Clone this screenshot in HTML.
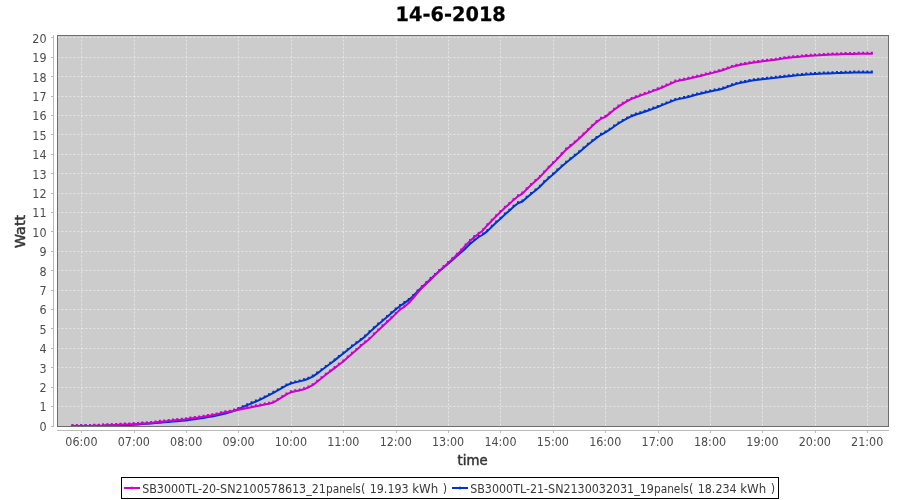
<!DOCTYPE html>
<html lang="en"><head><meta charset="utf-8"><title>14-6-2018</title>
<style>html,body{margin:0;padding:0;background:#fff}body{width:900px;height:500px;overflow:hidden}svg{display:block}text{font-family:"DejaVu Sans Condensed","DejaVu Sans","Liberation Sans",sans-serif;font-stretch:condensed;fill:#4c4c4c}.lb{fill:#333;stroke:#333;stroke-width:0.45px}.ti{fill:#000}.lg{fill:#3a3a3a}.tk{font-size:12.4px}</style></head><body>
<svg width="900" height="500" viewBox="0 0 900 500">
<rect width="900" height="500" fill="#fff"/>
<rect x="57" y="35" width="832" height="392" fill="#cccccc"/>
<path d="M81.5 35.5V426M134.5 35.5V426M186.5 35.5V426M238.5 35.5V426M291.5 35.5V426M343.5 35.5V426M396.5 35.5V426M448.5 35.5V426M500.5 35.5V426M553.5 35.5V426M605.5 35.5V426M658.5 35.5V426M710.5 35.5V426M762.5 35.5V426M815.5 35.5V426M867.5 35.5V426" stroke="rgba(255,255,255,0.5)" stroke-width="1" stroke-dasharray="2 2" fill="none"/>
<path d="M57.4 406.5H888M57.4 387.5H888M57.4 367.5H888M57.4 348.5H888M57.4 328.5H888M57.4 309.5H888M57.4 290.5H888M57.4 270.5H888M57.4 251.5H888M57.4 231.5H888M57.4 212.5H888M57.4 193.5H888M57.4 173.5H888M57.4 154.5H888M57.4 134.5H888M57.4 115.5H888M57.4 96.5H888M57.4 76.5H888M57.4 57.5H888M57.4 37.5H888" stroke="rgba(255,255,255,0.5)" stroke-width="1" stroke-dasharray="2 2" fill="none"/>
<defs><clipPath id="pc"><rect x="57" y="35" width="832" height="392"/></clipPath></defs><g clip-path="url(#pc)">
<polyline points="72.5,426.3 76.9,426.2 81.2,426.2 85.6,426.1 90.0,426.0 94.3,426.0 98.7,425.9 103.1,425.8 107.4,425.6 111.8,425.5 116.2,425.3 120.5,425.2 124.9,425.0 129.3,424.9 133.6,424.7 138.0,424.4 142.4,424.1 146.8,423.8 151.1,423.4 155.5,423.1 159.9,422.7 164.2,422.3 168.6,421.9 173.0,421.6 177.3,421.2 181.7,420.8 186.1,420.4 190.4,419.8 194.8,419.2 199.2,418.6 203.5,417.9 207.9,417.1 212.3,416.4 216.6,415.5 221.0,414.6 225.4,413.6 229.7,412.4 234.1,410.8 238.5,409.1 242.8,407.2 247.2,405.2 251.6,403.3 255.9,401.5 260.3,399.6 264.7,397.4 269.0,395.2 273.4,392.8 277.8,390.4 282.2,387.9 286.5,385.4 290.9,383.5 295.3,382.4 299.6,381.4 304.0,380.3 308.4,378.7 312.7,376.6 317.1,373.6 321.5,370.2 325.8,367.0 330.2,363.8 334.6,360.4 338.9,356.9 343.3,353.5 347.7,349.9 352.0,346.5 356.4,343.2 360.8,339.9 365.1,336.6 369.5,332.2 373.9,328.3 378.2,324.5 382.6,320.8 387.0,317.1 391.3,313.3 395.7,309.5 400.1,305.9 404.4,303.1 408.8,299.9 413.2,295.9 417.6,291.5 421.9,287.2 426.3,283.2 430.7,279.1 435.0,275.1 439.4,271.1 443.8,267.4 448.1,263.8 452.5,259.9 456.9,256.1 461.2,252.3 465.6,248.4 470.0,244.0 474.3,240.5 478.7,237.0 483.1,234.5 487.4,231.1 491.8,226.7 496.2,222.5 500.5,218.7 504.9,214.6 509.3,210.7 513.6,206.7 518.0,203.3 522.4,201.5 526.7,197.7 531.1,194.0 535.5,190.4 539.9,186.8 544.2,182.3 548.6,178.3 553.0,174.5 557.3,170.5 561.7,166.5 566.1,162.7 570.4,159.2 574.8,155.7 579.2,152.2 583.5,148.5 587.9,144.8 592.3,141.3 596.6,137.9 601.0,134.8 605.4,132.4 609.7,129.7 614.1,126.5 618.5,123.5 622.8,120.9 627.2,118.4 631.6,116.2 635.9,114.5 640.3,113.2 644.7,111.8 649.0,110.3 653.4,108.6 657.8,107.0 662.1,105.2 666.5,103.4 670.9,101.6 675.3,99.9 679.6,98.9 684.0,97.9 688.4,97.1 692.7,95.8 697.1,94.5 701.5,93.5 705.8,92.5 710.2,91.6 714.6,90.6 718.9,89.7 723.3,88.5 727.7,86.9 732.0,85.3 736.4,83.9 740.8,82.8 745.1,82.0 749.5,81.1 753.9,80.2 758.2,79.7 762.6,79.2 767.0,78.7 771.3,78.3 775.7,77.8 780.1,77.2 784.4,76.7 788.8,76.2 793.2,75.8 797.5,75.3 801.9,75.0 806.3,74.6 810.7,74.3 815.0,73.9 819.4,73.7 823.8,73.6 828.1,73.4 832.5,73.2 836.9,73.1 841.2,72.9 845.6,72.8 850.0,72.7 854.3,72.6 858.7,72.5 863.1,72.5 867.4,72.5 871.8,72.5" fill="none" stroke="#0033cc" stroke-width="2" stroke-linejoin="round" stroke-linecap="square"/>
<path d="M71.5 424.3h2v2h-2zM75.9 424.2h2v2h-2zM80.2 424.2h2v2h-2zM84.6 424.1h2v2h-2zM89.0 424.0h2v2h-2zM93.3 424.0h2v2h-2zM97.7 423.9h2v2h-2zM102.1 423.8h2v2h-2zM106.4 423.6h2v2h-2zM110.8 423.5h2v2h-2zM115.2 423.3h2v2h-2zM119.5 423.2h2v2h-2zM123.9 423.0h2v2h-2zM128.3 422.9h2v2h-2zM132.6 422.7h2v2h-2zM137.0 422.4h2v2h-2zM141.4 422.1h2v2h-2zM145.8 421.8h2v2h-2zM150.1 421.4h2v2h-2zM154.5 421.1h2v2h-2zM158.9 420.7h2v2h-2zM163.2 420.3h2v2h-2zM167.6 419.9h2v2h-2zM172.0 419.6h2v2h-2zM176.3 419.2h2v2h-2zM180.7 418.8h2v2h-2zM185.1 418.4h2v2h-2zM189.4 417.8h2v2h-2zM193.8 417.2h2v2h-2zM198.2 416.6h2v2h-2zM202.5 415.9h2v2h-2zM206.9 415.1h2v2h-2zM211.3 414.4h2v2h-2zM215.6 413.5h2v2h-2zM220.0 412.6h2v2h-2zM224.4 411.6h2v2h-2zM228.7 410.4h2v2h-2zM233.1 408.8h2v2h-2zM237.5 407.1h2v2h-2zM241.8 405.2h2v2h-2zM246.2 403.2h2v2h-2zM250.6 401.3h2v2h-2zM254.9 399.5h2v2h-2zM259.3 397.6h2v2h-2zM263.7 395.4h2v2h-2zM268.0 393.2h2v2h-2zM272.4 390.8h2v2h-2zM276.8 388.4h2v2h-2zM281.2 385.9h2v2h-2zM285.5 383.4h2v2h-2zM289.9 381.5h2v2h-2zM294.3 380.4h2v2h-2zM298.6 379.4h2v2h-2zM303.0 378.3h2v2h-2zM307.4 376.7h2v2h-2zM311.7 374.6h2v2h-2zM316.1 371.6h2v2h-2zM320.5 368.2h2v2h-2zM324.8 365.0h2v2h-2zM329.2 361.8h2v2h-2zM333.6 358.4h2v2h-2zM337.9 354.9h2v2h-2zM342.3 351.5h2v2h-2zM346.7 347.9h2v2h-2zM351.0 344.5h2v2h-2zM355.4 341.2h2v2h-2zM359.8 337.9h2v2h-2zM364.1 334.6h2v2h-2zM368.5 330.2h2v2h-2zM372.9 326.3h2v2h-2zM377.2 322.5h2v2h-2zM381.6 318.8h2v2h-2zM386.0 315.1h2v2h-2zM390.3 311.3h2v2h-2zM394.7 307.5h2v2h-2zM399.1 303.9h2v2h-2zM403.4 301.1h2v2h-2zM407.8 297.9h2v2h-2zM412.2 293.9h2v2h-2zM416.6 289.5h2v2h-2zM420.9 285.2h2v2h-2zM425.3 281.2h2v2h-2zM429.7 277.1h2v2h-2zM434.0 273.1h2v2h-2zM438.4 269.1h2v2h-2zM442.8 265.4h2v2h-2zM447.1 261.8h2v2h-2zM451.5 257.9h2v2h-2zM455.9 254.1h2v2h-2zM460.2 250.3h2v2h-2zM464.6 246.4h2v2h-2zM469.0 242.0h2v2h-2zM473.3 238.5h2v2h-2zM477.7 235.0h2v2h-2zM482.1 232.5h2v2h-2zM486.4 229.1h2v2h-2zM490.8 224.7h2v2h-2zM495.2 220.5h2v2h-2zM499.5 216.7h2v2h-2zM503.9 212.6h2v2h-2zM508.3 208.7h2v2h-2zM512.6 204.7h2v2h-2zM517.0 201.3h2v2h-2zM521.4 199.5h2v2h-2zM525.7 195.7h2v2h-2zM530.1 192.0h2v2h-2zM534.5 188.4h2v2h-2zM538.9 184.8h2v2h-2zM543.2 180.3h2v2h-2zM547.6 176.3h2v2h-2zM552.0 172.5h2v2h-2zM556.3 168.5h2v2h-2zM560.7 164.5h2v2h-2zM565.1 160.7h2v2h-2zM569.4 157.2h2v2h-2zM573.8 153.7h2v2h-2zM578.2 150.2h2v2h-2zM582.5 146.5h2v2h-2zM586.9 142.8h2v2h-2zM591.3 139.3h2v2h-2zM595.6 135.9h2v2h-2zM600.0 132.8h2v2h-2zM604.4 130.4h2v2h-2zM608.7 127.7h2v2h-2zM613.1 124.5h2v2h-2zM617.5 121.5h2v2h-2zM621.8 118.9h2v2h-2zM626.2 116.4h2v2h-2zM630.6 114.2h2v2h-2zM634.9 112.5h2v2h-2zM639.3 111.2h2v2h-2zM643.7 109.8h2v2h-2zM648.0 108.3h2v2h-2zM652.4 106.6h2v2h-2zM656.8 105.0h2v2h-2zM661.1 103.2h2v2h-2zM665.5 101.4h2v2h-2zM669.9 99.6h2v2h-2zM674.3 97.9h2v2h-2zM678.6 96.9h2v2h-2zM683.0 95.9h2v2h-2zM687.4 95.1h2v2h-2zM691.7 93.8h2v2h-2zM696.1 92.5h2v2h-2zM700.5 91.5h2v2h-2zM704.8 90.5h2v2h-2zM709.2 89.6h2v2h-2zM713.6 88.6h2v2h-2zM717.9 87.7h2v2h-2zM722.3 86.5h2v2h-2zM726.7 84.9h2v2h-2zM731.0 83.3h2v2h-2zM735.4 81.9h2v2h-2zM739.8 80.8h2v2h-2zM744.1 80.0h2v2h-2zM748.5 79.1h2v2h-2zM752.9 78.2h2v2h-2zM757.2 77.7h2v2h-2zM761.6 77.2h2v2h-2zM766.0 76.7h2v2h-2zM770.3 76.3h2v2h-2zM774.7 75.8h2v2h-2zM779.1 75.2h2v2h-2zM783.4 74.7h2v2h-2zM787.8 74.2h2v2h-2zM792.2 73.8h2v2h-2zM796.5 73.3h2v2h-2zM800.9 73.0h2v2h-2zM805.3 72.6h2v2h-2zM809.7 72.3h2v2h-2zM814.0 71.9h2v2h-2zM818.4 71.7h2v2h-2zM822.8 71.6h2v2h-2zM827.1 71.4h2v2h-2zM831.5 71.2h2v2h-2zM835.9 71.1h2v2h-2zM840.2 70.9h2v2h-2zM844.6 70.8h2v2h-2zM849.0 70.7h2v2h-2zM853.3 70.6h2v2h-2zM857.7 70.5h2v2h-2zM862.1 70.5h2v2h-2zM866.4 70.5h2v2h-2zM870.8 70.5h2v2h-2z" fill="#0033cc"/>
<polyline points="72.5,426.2 76.9,426.1 81.2,426.0 85.6,426.0 90.0,425.9 94.3,425.8 98.7,425.7 103.1,425.6 107.4,425.4 111.8,425.2 116.2,425.0 120.5,424.8 124.9,424.6 129.3,424.4 133.6,424.2 138.0,423.9 142.4,423.6 146.8,423.4 151.1,423.1 155.5,422.5 159.9,421.8 164.2,421.4 168.6,421.0 173.0,420.5 177.3,420.1 181.7,419.7 186.1,419.2 190.4,418.6 194.8,418.0 199.2,417.4 203.5,416.7 207.9,416.0 212.3,415.3 216.6,414.4 221.0,413.3 225.4,412.3 229.7,411.7 234.1,410.8 238.5,409.8 242.8,408.9 247.2,408.0 251.6,407.2 255.9,406.3 260.3,405.4 264.7,404.6 269.0,403.7 273.4,402.5 277.8,399.9 282.2,397.2 286.5,394.4 290.9,392.3 295.3,391.2 299.6,390.4 304.0,389.3 308.4,387.4 312.7,385.2 317.1,381.7 321.5,378.2 325.8,374.8 330.2,371.4 334.6,368.1 338.9,364.8 343.3,361.5 347.7,357.6 352.0,353.7 356.4,349.9 360.8,346.1 365.1,342.5 369.5,338.9 373.9,334.6 378.2,330.4 382.6,326.3 387.0,322.2 391.3,318.2 395.7,313.9 400.1,309.5 404.4,306.8 408.8,303.1 413.2,298.2 417.6,292.9 421.9,288.1 426.3,283.9 430.7,279.7 435.0,275.4 439.4,271.1 443.8,267.1 448.1,263.0 452.5,258.9 456.9,254.8 461.2,250.5 465.6,245.4 470.0,241.0 474.3,237.1 478.7,233.7 483.1,230.2 487.4,225.2 491.8,220.7 496.2,216.3 500.5,212.0 504.9,207.8 509.3,204.1 513.6,199.9 518.0,196.3 522.4,193.6 526.7,189.3 531.1,184.9 535.5,181.0 539.9,177.1 544.2,172.4 548.6,167.8 553.0,163.3 557.3,159.1 561.7,154.3 566.1,149.6 570.4,146.1 574.8,142.5 579.2,138.4 583.5,134.4 587.9,130.2 592.3,126.1 596.6,122.1 601.0,118.7 605.4,116.9 609.7,113.4 614.1,109.8 618.5,106.6 622.8,103.8 627.2,101.2 631.6,98.9 635.9,97.2 640.3,95.6 644.7,94.1 649.0,92.6 653.4,90.9 657.8,89.3 662.1,87.5 666.5,85.6 670.9,83.6 675.3,81.6 679.6,80.6 684.0,79.7 688.4,78.7 692.7,77.8 697.1,76.8 701.5,75.7 705.8,74.6 710.2,73.6 714.6,72.4 718.9,71.3 723.3,70.0 727.7,68.4 732.0,66.9 736.4,65.7 740.8,64.7 745.1,64.0 749.5,63.3 753.9,62.5 758.2,61.9 762.6,61.3 767.0,60.8 771.3,60.2 775.7,59.7 780.1,59.0 784.4,58.3 788.8,57.8 793.2,57.3 797.5,56.9 801.9,56.5 806.3,56.1 810.7,55.8 815.0,55.4 819.4,55.2 823.8,54.9 828.1,54.7 832.5,54.5 836.9,54.4 841.2,54.2 845.6,54.1 850.0,54.0 854.3,53.9 858.7,53.8 863.1,53.8 867.4,53.8 871.8,53.8" fill="none" stroke="#cc00cc" stroke-width="2" stroke-linejoin="round" stroke-linecap="square"/>
<path d="M71.5 424.2h2v2h-2zM75.9 424.1h2v2h-2zM80.2 424.0h2v2h-2zM84.6 424.0h2v2h-2zM89.0 423.9h2v2h-2zM93.3 423.8h2v2h-2zM97.7 423.7h2v2h-2zM102.1 423.6h2v2h-2zM106.4 423.4h2v2h-2zM110.8 423.2h2v2h-2zM115.2 423.0h2v2h-2zM119.5 422.8h2v2h-2zM123.9 422.6h2v2h-2zM128.3 422.4h2v2h-2zM132.6 422.2h2v2h-2zM137.0 421.9h2v2h-2zM141.4 421.6h2v2h-2zM145.8 421.4h2v2h-2zM150.1 421.1h2v2h-2zM154.5 420.5h2v2h-2zM158.9 419.8h2v2h-2zM163.2 419.4h2v2h-2zM167.6 419.0h2v2h-2zM172.0 418.5h2v2h-2zM176.3 418.1h2v2h-2zM180.7 417.7h2v2h-2zM185.1 417.2h2v2h-2zM189.4 416.6h2v2h-2zM193.8 416.0h2v2h-2zM198.2 415.4h2v2h-2zM202.5 414.7h2v2h-2zM206.9 414.0h2v2h-2zM211.3 413.3h2v2h-2zM215.6 412.4h2v2h-2zM220.0 411.3h2v2h-2zM224.4 410.3h2v2h-2zM228.7 409.7h2v2h-2zM233.1 408.8h2v2h-2zM237.5 407.8h2v2h-2zM241.8 406.9h2v2h-2zM246.2 406.0h2v2h-2zM250.6 405.2h2v2h-2zM254.9 404.3h2v2h-2zM259.3 403.4h2v2h-2zM263.7 402.6h2v2h-2zM268.0 401.7h2v2h-2zM272.4 400.5h2v2h-2zM276.8 397.9h2v2h-2zM281.2 395.2h2v2h-2zM285.5 392.4h2v2h-2zM289.9 390.3h2v2h-2zM294.3 389.2h2v2h-2zM298.6 388.4h2v2h-2zM303.0 387.3h2v2h-2zM307.4 385.4h2v2h-2zM311.7 383.2h2v2h-2zM316.1 379.7h2v2h-2zM320.5 376.2h2v2h-2zM324.8 372.8h2v2h-2zM329.2 369.4h2v2h-2zM333.6 366.1h2v2h-2zM337.9 362.8h2v2h-2zM342.3 359.5h2v2h-2zM346.7 355.6h2v2h-2zM351.0 351.7h2v2h-2zM355.4 347.9h2v2h-2zM359.8 344.1h2v2h-2zM364.1 340.5h2v2h-2zM368.5 336.9h2v2h-2zM372.9 332.6h2v2h-2zM377.2 328.4h2v2h-2zM381.6 324.3h2v2h-2zM386.0 320.2h2v2h-2zM390.3 316.2h2v2h-2zM394.7 311.9h2v2h-2zM399.1 307.5h2v2h-2zM403.4 304.8h2v2h-2zM407.8 301.1h2v2h-2zM412.2 296.2h2v2h-2zM416.6 290.9h2v2h-2zM420.9 286.1h2v2h-2zM425.3 281.9h2v2h-2zM429.7 277.7h2v2h-2zM434.0 273.4h2v2h-2zM438.4 269.1h2v2h-2zM442.8 265.1h2v2h-2zM447.1 261.0h2v2h-2zM451.5 256.9h2v2h-2zM455.9 252.8h2v2h-2zM460.2 248.5h2v2h-2zM464.6 243.4h2v2h-2zM469.0 239.0h2v2h-2zM473.3 235.1h2v2h-2zM477.7 231.7h2v2h-2zM482.1 228.2h2v2h-2zM486.4 223.2h2v2h-2zM490.8 218.7h2v2h-2zM495.2 214.3h2v2h-2zM499.5 210.0h2v2h-2zM503.9 205.8h2v2h-2zM508.3 202.1h2v2h-2zM512.6 197.9h2v2h-2zM517.0 194.3h2v2h-2zM521.4 191.6h2v2h-2zM525.7 187.3h2v2h-2zM530.1 182.9h2v2h-2zM534.5 179.0h2v2h-2zM538.9 175.1h2v2h-2zM543.2 170.4h2v2h-2zM547.6 165.8h2v2h-2zM552.0 161.3h2v2h-2zM556.3 157.1h2v2h-2zM560.7 152.3h2v2h-2zM565.1 147.6h2v2h-2zM569.4 144.1h2v2h-2zM573.8 140.5h2v2h-2zM578.2 136.4h2v2h-2zM582.5 132.4h2v2h-2zM586.9 128.2h2v2h-2zM591.3 124.1h2v2h-2zM595.6 120.1h2v2h-2zM600.0 116.7h2v2h-2zM604.4 114.9h2v2h-2zM608.7 111.4h2v2h-2zM613.1 107.8h2v2h-2zM617.5 104.6h2v2h-2zM621.8 101.8h2v2h-2zM626.2 99.2h2v2h-2zM630.6 96.9h2v2h-2zM634.9 95.2h2v2h-2zM639.3 93.6h2v2h-2zM643.7 92.1h2v2h-2zM648.0 90.6h2v2h-2zM652.4 88.9h2v2h-2zM656.8 87.3h2v2h-2zM661.1 85.5h2v2h-2zM665.5 83.6h2v2h-2zM669.9 81.6h2v2h-2zM674.3 79.6h2v2h-2zM678.6 78.6h2v2h-2zM683.0 77.7h2v2h-2zM687.4 76.7h2v2h-2zM691.7 75.8h2v2h-2zM696.1 74.8h2v2h-2zM700.5 73.7h2v2h-2zM704.8 72.6h2v2h-2zM709.2 71.6h2v2h-2zM713.6 70.4h2v2h-2zM717.9 69.3h2v2h-2zM722.3 68.0h2v2h-2zM726.7 66.4h2v2h-2zM731.0 64.9h2v2h-2zM735.4 63.7h2v2h-2zM739.8 62.7h2v2h-2zM744.1 62.0h2v2h-2zM748.5 61.3h2v2h-2zM752.9 60.5h2v2h-2zM757.2 59.9h2v2h-2zM761.6 59.3h2v2h-2zM766.0 58.8h2v2h-2zM770.3 58.2h2v2h-2zM774.7 57.7h2v2h-2zM779.1 57.0h2v2h-2zM783.4 56.3h2v2h-2zM787.8 55.8h2v2h-2zM792.2 55.3h2v2h-2zM796.5 54.9h2v2h-2zM800.9 54.5h2v2h-2zM805.3 54.1h2v2h-2zM809.7 53.8h2v2h-2zM814.0 53.4h2v2h-2zM818.4 53.2h2v2h-2zM822.8 52.9h2v2h-2zM827.1 52.7h2v2h-2zM831.5 52.5h2v2h-2zM835.9 52.4h2v2h-2zM840.2 52.2h2v2h-2zM844.6 52.1h2v2h-2zM849.0 52.0h2v2h-2zM853.3 51.9h2v2h-2zM857.7 51.8h2v2h-2zM862.1 51.8h2v2h-2zM866.4 51.8h2v2h-2zM870.8 51.8h2v2h-2z" fill="#cc00cc"/>
</g>
<rect x="57.5" y="35.5" width="831" height="391" fill="none" stroke="#6e6e6e" stroke-width="1" shape-rendering="crispEdges"/>
<path d="M53.5 35V427M57 430.5H889M51 406.5H54M51 387.5H54M51 367.5H54M51 348.5H54M51 328.5H54M51 309.5H54M51 290.5H54M51 270.5H54M51 251.5H54M51 231.5H54M51 212.5H54M51 193.5H54M51 173.5H54M51 154.5H54M51 134.5H54M51 115.5H54M51 96.5H54M51 76.5H54M51 57.5H54M51 37.5H54M51 426.5H54M81.5 430V433M134.5 430V433M186.5 430V433M238.5 430V433M291.5 430V433M343.5 430V433M396.5 430V433M448.5 430V433M500.5 430V433M553.5 430V433M605.5 430V433M658.5 430V433M710.5 430V433M762.5 430V433M815.5 430V433M867.5 430V433" stroke="#bbbbbb" stroke-width="1" fill="none" shape-rendering="crispEdges"/>
<text class="tk" x="46.5" y="431" text-anchor="end" textLength="7.10" lengthAdjust="spacingAndGlyphs">0</text>
<text class="tk" x="46.5" y="411" text-anchor="end" textLength="7.10" lengthAdjust="spacingAndGlyphs">1</text>
<text class="tk" x="46.5" y="392" text-anchor="end" textLength="7.10" lengthAdjust="spacingAndGlyphs">2</text>
<text class="tk" x="46.5" y="373" text-anchor="end" textLength="7.10" lengthAdjust="spacingAndGlyphs">3</text>
<text class="tk" x="46.5" y="353" text-anchor="end" textLength="7.10" lengthAdjust="spacingAndGlyphs">4</text>
<text class="tk" x="46.5" y="334" text-anchor="end" textLength="7.10" lengthAdjust="spacingAndGlyphs">5</text>
<text class="tk" x="46.5" y="314" text-anchor="end" textLength="7.10" lengthAdjust="spacingAndGlyphs">6</text>
<text class="tk" x="46.5" y="295" text-anchor="end" textLength="7.10" lengthAdjust="spacingAndGlyphs">7</text>
<text class="tk" x="46.5" y="276" text-anchor="end" textLength="7.10" lengthAdjust="spacingAndGlyphs">8</text>
<text class="tk" x="46.5" y="256" text-anchor="end" textLength="7.10" lengthAdjust="spacingAndGlyphs">9</text>
<text class="tk" x="46.5" y="237" text-anchor="end" textLength="14.20" lengthAdjust="spacingAndGlyphs">10</text>
<text class="tk" x="46.5" y="217" text-anchor="end" textLength="14.20" lengthAdjust="spacingAndGlyphs">11</text>
<text class="tk" x="46.5" y="198" text-anchor="end" textLength="14.20" lengthAdjust="spacingAndGlyphs">12</text>
<text class="tk" x="46.5" y="179" text-anchor="end" textLength="14.20" lengthAdjust="spacingAndGlyphs">13</text>
<text class="tk" x="46.5" y="159" text-anchor="end" textLength="14.20" lengthAdjust="spacingAndGlyphs">14</text>
<text class="tk" x="46.5" y="140" text-anchor="end" textLength="14.20" lengthAdjust="spacingAndGlyphs">15</text>
<text class="tk" x="46.5" y="120" text-anchor="end" textLength="14.20" lengthAdjust="spacingAndGlyphs">16</text>
<text class="tk" x="46.5" y="101" text-anchor="end" textLength="14.20" lengthAdjust="spacingAndGlyphs">17</text>
<text class="tk" x="46.5" y="82" text-anchor="end" textLength="14.20" lengthAdjust="spacingAndGlyphs">18</text>
<text class="tk" x="46.5" y="62" text-anchor="end" textLength="14.20" lengthAdjust="spacingAndGlyphs">19</text>
<text class="tk" x="46.5" y="43" text-anchor="end" textLength="14.20" lengthAdjust="spacingAndGlyphs">20</text>
<text class="tk" x="81.40" y="445.5" text-anchor="middle" textLength="32.17" lengthAdjust="spacingAndGlyphs">06:00</text>
<text class="tk" x="133.78" y="445.5" text-anchor="middle" textLength="32.17" lengthAdjust="spacingAndGlyphs">07:00</text>
<text class="tk" x="186.17" y="445.5" text-anchor="middle" textLength="32.17" lengthAdjust="spacingAndGlyphs">08:00</text>
<text class="tk" x="238.56" y="445.5" text-anchor="middle" textLength="32.17" lengthAdjust="spacingAndGlyphs">09:00</text>
<text class="tk" x="290.94" y="445.5" text-anchor="middle" textLength="32.17" lengthAdjust="spacingAndGlyphs">10:00</text>
<text class="tk" x="343.33" y="445.5" text-anchor="middle" textLength="32.17" lengthAdjust="spacingAndGlyphs">11:00</text>
<text class="tk" x="395.71" y="445.5" text-anchor="middle" textLength="32.17" lengthAdjust="spacingAndGlyphs">12:00</text>
<text class="tk" x="448.10" y="445.5" text-anchor="middle" textLength="32.17" lengthAdjust="spacingAndGlyphs">13:00</text>
<text class="tk" x="500.48" y="445.5" text-anchor="middle" textLength="32.17" lengthAdjust="spacingAndGlyphs">14:00</text>
<text class="tk" x="552.87" y="445.5" text-anchor="middle" textLength="32.17" lengthAdjust="spacingAndGlyphs">15:00</text>
<text class="tk" x="605.25" y="445.5" text-anchor="middle" textLength="32.17" lengthAdjust="spacingAndGlyphs">16:00</text>
<text class="tk" x="657.63" y="445.5" text-anchor="middle" textLength="32.17" lengthAdjust="spacingAndGlyphs">17:00</text>
<text class="tk" x="710.02" y="445.5" text-anchor="middle" textLength="32.17" lengthAdjust="spacingAndGlyphs">18:00</text>
<text class="tk" x="762.40" y="445.5" text-anchor="middle" textLength="32.17" lengthAdjust="spacingAndGlyphs">19:00</text>
<text class="tk" x="814.79" y="445.5" text-anchor="middle" textLength="32.17" lengthAdjust="spacingAndGlyphs">20:00</text>
<text class="tk" x="867.17" y="445.5" text-anchor="middle" textLength="32.17" lengthAdjust="spacingAndGlyphs">21:00</text>
<text class="lb" x="472.6" y="464.5" text-anchor="middle" font-size="14.5" textLength="30" lengthAdjust="spacingAndGlyphs">time</text>
<text class="lb" transform="translate(25.1,231.5) rotate(-90)" text-anchor="middle" font-size="14.5" textLength="33.6" lengthAdjust="spacingAndGlyphs">Watt</text>
<text class="ti" x="450.7" y="20.9" text-rendering="geometricPrecision" text-anchor="middle" font-size="20" font-weight="bold" stroke="#000" stroke-width="0.25" textLength="110.2" lengthAdjust="spacingAndGlyphs">14-6-2018</text>
<rect x="121.5" y="477.5" width="657" height="21" fill="#fff" stroke="#000" stroke-width="1" shape-rendering="crispEdges"/>
<path d="M124 488H140" stroke="#cc00cc" stroke-width="2"/><rect x="131" y="486.7" width="2" height="2.6" fill="#cc00cc"/>
<path d="M452 488H468" stroke="#0033cc" stroke-width="2"/><rect x="459" y="486.7" width="2" height="2.6" fill="#0033cc"/>
<text class="lg" y="492.5" font-size="12.4" xml:space="preserve"><tspan x="142.2" textLength="183.7" lengthAdjust="spacingAndGlyphs">SB3000TL-20-SN2100578613_21</tspan><tspan x="325.9" textLength="35" lengthAdjust="spacingAndGlyphs">panels</tspan><tspan x="360.9">( </tspan><tspan x="369.7">19.193 </tspan><tspan x="412.2" textLength="26" lengthAdjust="spacingAndGlyphs">kWh</tspan><tspan x="439.1"> )</tspan></text>
<text class="lg" y="492.5" font-size="12.4" xml:space="preserve"><tspan x="470.2" textLength="183.7" lengthAdjust="spacingAndGlyphs">SB3000TL-21-SN2130032031_19</tspan><tspan x="653.9" textLength="35" lengthAdjust="spacingAndGlyphs">panels</tspan><tspan x="688.9">( </tspan><tspan x="697.7">18.234 </tspan><tspan x="740.2" textLength="26" lengthAdjust="spacingAndGlyphs">kWh</tspan><tspan x="767.1"> )</tspan></text>
</svg></body></html>
